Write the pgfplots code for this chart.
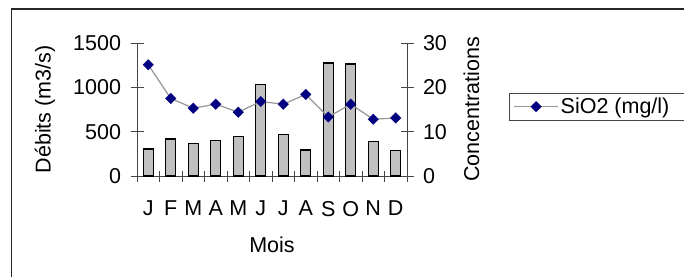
\documentclass[border=0pt]{standalone}
\usepackage{pgfplots}
\pgfplotsset{compat=1.18}
\usepackage{fontspec}
\setmainfont{Liberation Sans}
\definecolor{navy}{RGB}{0,0,128}
\definecolor{barfill}{RGB}{192,192,192}
\definecolor{linegray}{RGB}{150,150,150}
\definecolor{axgray}{RGB}{70,70,70}
\begin{document}
\begin{tikzpicture}[x=1pt,y=1pt,font=\fontsize{21.5}{24}\selectfont]
\useasboundingbox (0,0) rectangle (684,276);
\draw[black!85, line width=1.2pt] (11.5,-20) -- (11.5,267) -- (720,267);
\pgfplotsset{
  common/.style={
    at={(137pt,100pt)}, anchor=south west,
    width=270pt, height=133pt, scale only axis,
    xmin=-0.5, xmax=11.5, ymin=0,
    /pgf/number format/assume math mode=true,
    /pgf/number format/1000 sep={},
    tick align=center, major tick length=13pt,
    axis line style={-, draw=axgray, line width=0.9pt},
    tick style={draw=axgray, line width=0.9pt},
  }
}
\begin{axis}[common,
  ymax=1500,
  axis x line*=bottom, axis y line*=left,
  ytick={0,500,1000,1500},
  xtick={0,...,11},
  xticklabels={J,F,M,A,M,J,J,A,S,O,N,D},
  xtick style={draw=none},
  extra x ticks={-0.5,0.5,...,11.5},
  extra x tick labels={},
  extra x tick style={major tick length=11pt, xtick style={draw=axgray, line width=0.9pt}},
  xticklabel style={anchor=north, yshift=-15pt},
  yticklabel style={xshift=-6pt},
  xlabel={Mois},
  ylabel={Débits (m3/s)},
  every axis x label/.style={at={(axis description cs:0.5,-0.52)}, anchor=center},
  every axis y label/.style={at={(axis description cs:-0.3407,0.5)}, rotate=90, anchor=center},
]
\addplot[ybar, bar width=10pt, fill=barfill, draw=black, line width=1.4pt] coordinates {
(0,304) (1,417) (2,365) (3,399) (4,444) (5,1034) (6,470) (7,293) (8,1274) (9,1263) (10,391) (11,286)};
\end{axis}
\begin{axis}[common,
  ymax=30,
  axis x line=none, axis y line*=right,
  ytick={0,10,20,30},
  yticklabel style={xshift=6pt},
  ylabel={Concentrations},
  every axis y label/.style={at={(axis description cs:1.239,0.5)}, rotate=90, anchor=center},
  legend style={at={(axis description cs:1.378,0.626)}, anchor=north west,
    draw=axgray, line width=0.9pt, inner xsep=4pt, inner ysep=3pt, fill=white,
    font=\fontsize{21.5}{24}\selectfont},
  legend image code/.code={\draw[#1, mark repeat=2, mark phase=2] plot coordinates {(0pt,0pt) (22pt,0pt) (44pt,0pt)};},
]
\addplot[linegray, line width=1.2pt, mark=square*, mark size=3.8pt,
  mark options={rotate=45, fill=navy, draw=navy, line width=0.1pt}] coordinates {
(0,25.1) (1,17.5) (2,15.3) (3,16.2) (4,14.4) (5,16.8) (6,16.2) (7,18.4) (8,13.3) (9,16.2) (10,12.8) (11,13.1)};
\addlegendentry{SiO2 (mg/l)\hphantom{XXXXXX}}
\end{axis}
\end{tikzpicture}
\end{document}
